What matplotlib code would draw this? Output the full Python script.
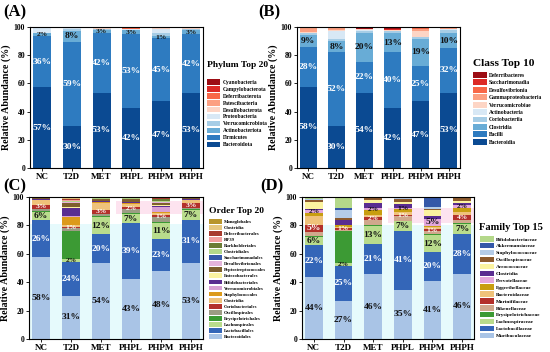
import matplotlib
matplotlib.use("Agg")
import matplotlib.pyplot as plt
from matplotlib.patches import Patch
import matplotlib.colors as mcolors
import numpy as np

plt.rcParams['font.family'] = ['Liberation Serif', 'DejaVu Serif']
plt.rcParams['font.weight'] = 'bold'

groups = ['NC', 'T2D', 'MET', 'PHPL', 'PHPM', 'PHPH']

# ---------------- (A) Phylum ----------------
phylum_names = ['Bacteroidota', 'Firmicutes', 'Actinobacteriota', 'Verrucomicrobiota',
                'Proteobacteria', 'Desulfobacterota', 'Patescibacteria', 'Deferribacterota',
                'Campylobacterota', 'Cyanobacteria']
phylum_colors = ['#0b4a92', '#2e7bc0', '#68acd6', '#a6cde6', '#d8e8f5',
                 '#fdd5c5', '#fca082', '#f86848', '#dc2a26', '#9c0d14']
phylum_values = {
    'NC':   [57.4, 36.0, 2.0, 0.6, 3.0, 0.5, 0.2, 0.1, 0.1, 0.1],
    'T2D':  [30.0, 59.4, 8.0, 1.0, 0.8, 0.3, 0.2, 0.1, 0.1, 0.1],
    'MET':  [53.4, 42.0, 2.6, 0.3, 0.4, 0.3, 0.3, 0.4, 0.2, 0.1],
    'PHPL': [42.3, 52.8, 2.7, 0.2, 0.3, 0.2, 0.2, 0.5, 0.7, 0.1],
    'PHPM': [47.4, 44.6, 1.3, 2.5, 3.0, 0.4, 0.3, 0.2, 0.2, 0.1],
    'PHPH': [53.2, 41.8, 2.8, 0.5, 0.6, 0.3, 0.2, 0.2, 0.3, 0.1],
}
phylum_labeled = ['Bacteroidota', 'Firmicutes', 'Actinobacteriota']

# ---------------- (B) Class ----------------
class_names = ['Bacteroidia', 'Bacilli', 'Clostridia', 'Coriobacteriia', 'Actinobacteria',
               'Verrucomicrobiae', 'Gammaproteobacteria', 'Desulfovibrionia',
               'Saccharimonadia', 'Deferribacteres']
class_colors = ['#0b4a92', '#2e7bc0', '#68acd6', '#a6cde6', '#d8e8f5',
                '#fdd5c5', '#fca082', '#f86848', '#dc2a26', '#9c0d14']
class_values = {
    'NC':   [57.6, 28.0, 8.8, 1.0, 0.6, 0.6, 2.8, 0.3, 0.2, 0.1],
    'T2D':  [30.0, 52.0, 8.0, 1.5, 6.0, 0.5, 1.2, 0.4, 0.2, 0.2],
    'MET':  [53.5, 22.0, 20.0, 2.0, 0.5, 0.3, 0.2, 0.2, 0.2, 1.1],
    'PHPL': [42.2, 40.0, 13.3, 1.5, 0.5, 0.2, 0.2, 0.2, 0.2, 1.7],
    'PHPM': [47.3, 25.2, 19.3, 1.0, 0.4, 4.0, 1.6, 0.4, 0.3, 0.5],
    'PHPH': [53.2, 32.0, 10.3, 2.5, 0.5, 0.3, 0.2, 0.1, 0.1, 0.8],
}
class_labeled = ['Bacteroidia', 'Bacilli', 'Clostridia']

# ---------------- (C) Order ----------------
order_names = ['Bacteroidales', 'Lactobacillales', 'Lachnospirales', 'Erysipelotrichales',
               'Oscillospirales', 'Coriobacteriales', 'Clostridia', 'Staphylococcales',
               'Verrucomicrobiales', 'Bifidobacteriales', 'Enterobacterales',
               'Peptostreptococcales', 'Desulfovibrionales', 'Saccharimonadales',
               'Clostridiales', 'Burkholderiales', 'RF39', 'Deferribacterales',
               'Clostridia', 'Monoglobales']
order_colors = ['#a9c4e6', '#3466b8', '#b9dc8c', '#3c9a34', '#9c9c84', '#b3302a',
                '#efc27a', '#dc9a1a', '#d8a0d4', '#5a2d91', '#fbf3a0', '#7d5f2e',
                '#e4b4dc', '#3558a8', '#b4d88a', '#6b7d35', '#f2a0a0', '#a83a2e',
                '#e6c77e', '#b8952c']
order_values = {
    'NC':   [57.5, 26.2, 6.0, 0.5, 1.5, 3.0, 3.0, 0.3, 0.2, 0.3, 0.2, 0.4, 0.2, 0.1, 0.1, 0.1, 0.1, 0.1, 0.1, 0.1],
    'T2D':  [30.6, 23.8, 2.2, 19.4, 2.0, 1.0, 1.2, 5.5, 0.8, 5.8, 0.4, 3.3, 0.3, 0.3, 0.5, 0.4, 0.4, 0.6, 0.5, 1.0],
    'MET':  [53.6, 20.2, 12.0, 1.0, 1.2, 3.0, 4.7, 0.5, 0.3, 0.5, 0.3, 1.0, 0.3, 0.2, 0.2, 0.2, 0.2, 0.2, 0.2, 0.4],
    'PHPL': [42.6, 38.8, 6.8, 0.5, 2.5, 2.0, 2.0, 0.5, 0.3, 0.4, 0.3, 1.7, 0.2, 0.2, 0.2, 0.2, 0.2, 0.3, 0.2, 0.3],
    'PHPM': [47.6, 23.0, 11.0, 1.0, 3.5, 1.0, 1.4, 0.8, 4.0, 0.5, 0.5, 1.5, 0.5, 0.3, 0.5, 1.5, 0.3, 0.3, 0.3, 0.5],
    'PHPH': [53.3, 30.8, 7.0, 0.5, 1.0, 3.0, 2.0, 0.3, 0.2, 0.3, 0.2, 0.6, 0.1, 0.1, 0.1, 0.1, 0.1, 0.1, 0.1, 0.2],
}
order_labeled = ['Bacteroidales', 'Lactobacillales', 'Lachnospirales', 'Coriobacteriales']

# ---------------- (D) Family ----------------
family_names = ['Muribaculaceae', 'Lactobacillaceae', 'Lachnospiraceae', 'Erysipelotrichaceae',
                'Rikenellaceae', 'Marinifilaceae', 'Bacteroidaceae', 'Eggerthellaceae',
                'Prevotellaceae', 'Clostridia', 'Aerococcaceae', 'Oscillospiraceae',
                'Staphylococcaceae', 'Akkermansiaceae', 'Bifidobacteriaceae']
family_colors = ['#a9c4e6', '#3466b8', '#b9dc8c', '#3c9a34', '#d0a88c', '#b3302a',
                 '#efc27a', '#c89e10', '#e4a8dc', '#5a2d91', '#fbf3a0', '#8c5a2e',
                 '#b4cce8', '#3558a8', '#b4d88a']
family_values = {
    'NC':   [44.0, 22.0, 6.0, 0.5, 3.0, 5.0, 6.0, 2.0, 2.0, 0.8, 5.0, 1.5, 0.5, 0.2, 1.5],
    'T2D':  [26.6, 25.0, 2.0, 22.4, 1.0, 1.0, 1.0, 1.0, 0.5, 3.0, 0.5, 1.0, 6.0, 1.0, 8.0],
    'MET':  [45.6, 21.0, 13.0, 1.0, 3.0, 2.0, 2.0, 3.0, 1.5, 3.4, 2.1, 1.5, 0.3, 0.3, 0.3],
    'PHPL': [34.8, 41.0, 7.0, 0.5, 3.0, 1.0, 2.0, 2.0, 1.0, 3.0, 1.5, 2.0, 0.5, 0.3, 0.4],
    'PHPM': [41.0, 20.2, 12.0, 1.0, 2.0, 1.0, 1.5, 1.0, 5.0, 2.0, 4.0, 1.0, 1.3, 7.0, 0.0],
    'PHPH': [46.0, 28.0, 7.0, 0.5, 2.0, 4.0, 2.0, 3.0, 2.0, 1.5, 1.5, 1.5, 0.5, 0.2, 0.3],
}
family_labeled = ['Muribaculaceae', 'Lactobacillaceae', 'Lachnospiraceae', 'Marinifilaceae',
                  'Prevotellaceae']

fig = plt.figure(figsize=(5.5, 3.52), dpi=100)
W, H = 550.0, 352.0


def luminance(c):
    r, g, b = mcolors.to_rgb(c)
    return 0.299 * r + 0.587 * g + 0.114 * b


def panel(rect, names, colors, values, labeled, title, leg_pos, title_pos,
          title_size, leg_font, leg_hl, leg_hh, leg_sp, shading=None):
    l, t, r, b = rect
    ax = fig.add_axes([l / W, 1 - b / H, (r - l) / W, (b - t) / H])
    x = np.arange(len(groups))
    if shading:
        for (x0, x1, y0, y1, col) in shading:
            ax.fill_between([x0, x1], y0, y1, color=col, zorder=0, lw=0)
    bottoms = np.zeros(len(groups))
    label_idx = set(names.index(n) for n in labeled)
    for i, col in enumerate(colors):
        vals = np.array([values[g][i] for g in groups])
        ax.bar(x, vals, 0.6, bottom=bottoms, color=col, lw=0, zorder=2)
        if i in label_idx:
            for j, v in enumerate(vals):
                if v >= 0.8:
                    tc = 'white' if luminance(col) < 0.55 else '#111111'
                    fs = 6.8 if v >= 5 else 5.4
                    ax.text(x[j], bottoms[j] + v / 2, f"{round(v)}%", ha='center',
                            va='center', color=tc, fontsize=fs, fontweight='bold', zorder=3)
        bottoms += vals
    ax.set_xlim(-0.4, 5.4)
    ax.set_ylim(0, 100)
    ax.set_xticks(x)
    ax.set_xticklabels(groups, fontsize=6.5, fontweight='bold')
    ax.set_yticks([0, 20, 40, 60, 80, 100])
    ax.tick_params(axis='y', labelsize=5.5, length=2, width=0.6, pad=1.5)
    ax.tick_params(axis='x', length=2, width=0.6, pad=1.5)
    for s in ax.spines.values():
        s.set_linewidth(0.8)
    ax.set_ylabel('Relative Abundance (%)', fontsize=7.2, fontweight='bold', labelpad=2)
    handles = [Patch(facecolor=c, edgecolor='none') for c in colors][::-1]
    labs = names[::-1]
    fig.text(title_pos[0] / W, 1 - title_pos[1] / H, title, fontsize=title_size,
             fontweight='bold', ha='left', va='center')
    ax.legend(handles, labs, loc='upper left',
              bbox_to_anchor=(leg_pos[0] / W, 1 - leg_pos[1] / H),
              bbox_transform=fig.transFigure, frameon=False,
              prop={'size': leg_font, 'weight': 'bold'},
              handlelength=leg_hl, handleheight=leg_hh, labelspacing=leg_sp,
              borderaxespad=0, borderpad=0, handletextpad=0.4)
    return ax


panel((30, 27, 203, 168), phylum_names, phylum_colors, phylum_values, phylum_labeled,
      'Phylum Top 20', (207, 79), (207, 65), 6.8, 4.0, 2.4, 1.2, 0.22)
panel((297, 27, 460, 168), class_names, class_colors, class_values, class_labeled,
      'Class Top 10', (473, 72), (473, 64), 8.2, 4.0, 2.5, 1.25, 0.28)

cyan = '#e6fafc'
pink = '#fde3ef'
panel((29, 197, 203, 339), order_names, order_colors, order_values, order_labeled,
      'Order Top 20', (209, 219), (209, 211), 6.8, 3.4, 2.8, 1.2, 0.22,
      shading=[(-0.4, 5.4, 0, 81, cyan), (2.5, 5.4, 88, 97, pink)])
panel((302, 197, 474, 339), family_names, family_colors, family_values, family_labeled,
      'Family Top 15', (480, 236), (479, 228), 7.6, 3.8, 2.6, 1.25, 0.25,
      shading=[(-0.4, 5.4, 0, 80, cyan), (2.5, 5.4, 82, 92, pink)])

for lab, (px, py) in zip(['(A)', '(B)', '(C)', '(D)'],
                         [(3, 12), (258, 12), (3, 186), (260, 186)]):
    fig.text(px / W, 1 - py / H, lab, fontsize=12, fontweight='bold', ha='left', va='center')

fig.savefig('out.png', dpi=100)
